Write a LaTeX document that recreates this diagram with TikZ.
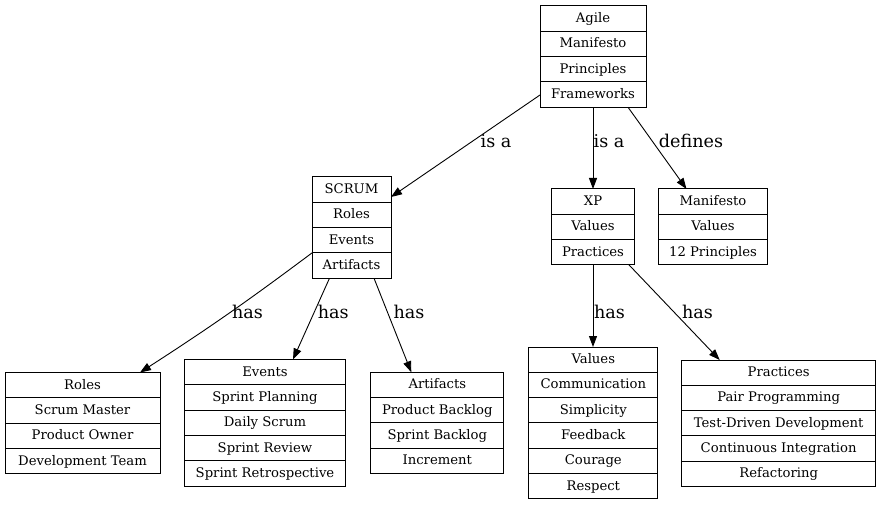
\documentclass[tikz,border=0pt]{standalone}
\usepackage{fontspec}
\setmainfont{DejaVu Serif}
\usetikzlibrary{arrows.meta}
\tikzset{
  recbox/.style={draw, line width=1pt, inner sep=0pt, outer sep=0pt},
  rectext/.style={anchor=base, inner sep=0pt, font=\fontsize{13.2}{15}\selectfont},
  conn/.style={draw, line width=0.9pt, -{Triangle[length=11pt,width=8pt]}},
  lbl/.style={inner sep=0pt, font=\fontsize{17.6}{20}\selectfont},
}
% #1 name, #2 centre x, #3 top y, #4 width, #5 number of rows, #6 rows
\newcommand{\recnode}[6]{%
  \node[recbox, minimum width=#4pt, minimum height=#5*25.3pt, anchor=north] (#1) at (#2,#3) {};
  \foreach \t [count=\i] in {#6} {
    \node[rectext] (#1-\i) at (#2, #3+\i*25.3-12.65+4) {\t};
    \ifnum\i>1 \draw[line width=1pt] (#2-#4/2, #3+\i*25.3-25.3) -- (#2+#4/2, #3+\i*25.3-25.3);\fi
  }
}
\begin{document}
\begin{tikzpicture}[x=1pt, y=-1pt]
\useasboundingbox (0,0) rectangle (883,505);

\recnode{agile}{593}{6}{106}{4}{Agile,Manifesto,Principles,Frameworks}
\recnode{scrum}{351.5}{177}{79}{4}{SCRUM,Roles,Events,Artifacts}
\recnode{xp}{593}{189}{83}{3}{XP,Values,Practices}
\recnode{man}{713}{189}{109.5}{3}{Manifesto,Values,12 Principles}
\recnode{roles}{82.5}{372.5}{155}{4}{Roles,Scrum Master,Product Owner,Development Team}
\recnode{events}{265}{359.5}{161.5}{5}{Events,Sprint Planning,Daily Scrum,Sprint Review,Sprint Retrospective}
\recnode{artifacts}{437.3}{372.3}{133.3}{4}{Artifacts,Product Backlog,Sprint Backlog,Increment}
\recnode{values}{593.3}{347}{128.7}{6}{Values,Communication,Simplicity,Feedback,Courage,Respect}
\recnode{practices}{778.7}{360}{194}{5}{Practices,Pair Programming,Test-Driven Development,Continuous Integration,Refactoring}

% connectors
\draw[conn] ([yshift=-89pt]agile.north west) -- ([yshift=-20pt]scrum.north east);
\draw[conn] (agile.south) -- (xp.north);
\draw[conn] ([xshift=35pt]agile.south) -- ([xshift=-26.5pt]man.north);
\draw[conn] ([yshift=-75.9pt]scrum.north west) to[bend left=2] ([xshift=57.5pt]roles.north);
\draw[conn] ([xshift=-22pt]scrum.south) -- ([xshift=28pt]events.north);
\draw[conn] ([xshift=22.5pt]scrum.south) -- ([xshift=-26pt]artifacts.north);
\draw[conn] (xp.south) -- (xp.south |- values.north);
\draw[conn] ([xshift=36pt]xp.south) -- ([xshift=-59pt]practices.north);

% labels
\node[lbl] (l1) at (496,141) {is a};
\node[lbl] (l2) at (609,141) {is a};
\node[lbl] (l3) at (691,141) {defines};
\node[lbl] (l4) at (247.5,312) {has};
\node[lbl] (l5) at (333.3,312) {has};
\node[lbl] (l6) at (409,312) {has};
\node[lbl] (l7) at (609.5,312) {has};
\node[lbl] (l8) at (697.5,312) {has};
\end{tikzpicture}
\end{document}
